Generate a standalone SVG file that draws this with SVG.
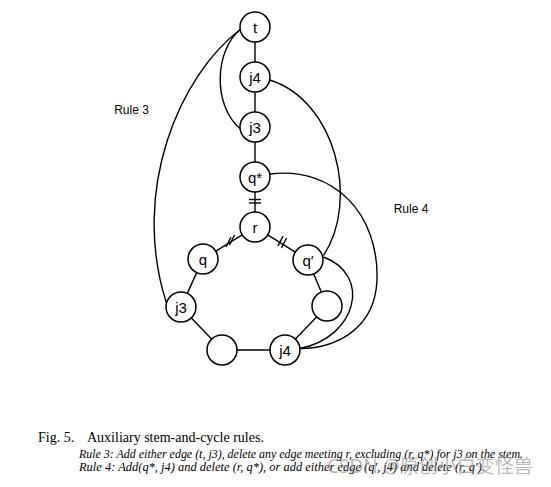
<svg xmlns="http://www.w3.org/2000/svg" width="551" height="487" viewBox="0 0 551 487">
<style>
.n circle{fill:#fff;stroke:#000;stroke-width:1.5}
.n text{font-family:"Liberation Sans",Arial,sans-serif;font-size:15px;text-anchor:middle;fill:#000}
.e{fill:none;stroke:#000;stroke-width:1.4}
.lbl{font-family:"Liberation Sans",Arial,sans-serif;font-size:12px;fill:#000}
.cap{font-family:"Liberation Serif","Times New Roman",serif;fill:#000}
.it{font-style:italic;font-size:12px}
</style>
<rect width="551" height="487" fill="#fff"/>
<g id="connectors" class="e">
  <!-- stem -->
  <line x1="255" y1="42" x2="255" y2="62"/>
  <line x1="255" y1="92" x2="255" y2="112"/>
  <line x1="255" y1="142" x2="255" y2="162"/>
  <line x1="255" y1="192" x2="255" y2="212"/>
  <line x1="249" y1="199.5" x2="261" y2="199.5"/>
  <line x1="249" y1="203" x2="261" y2="203"/>
  <!-- cycle -->
  <line x1="242.2" y1="234.9" x2="215.8" y2="251.1"/>
  <line x1="226" y1="247" x2="231" y2="237"/>
  <line x1="229.5" y1="245" x2="234.5" y2="235"/>
  <line x1="267.7" y1="234.9" x2="295.3" y2="252.1"/>
  <line x1="278" y1="246" x2="283" y2="236"/>
  <line x1="281.5" y1="248" x2="286.5" y2="238"/>
  <line x1="196.7" y1="272.6" x2="187.3" y2="293.4"/>
  <line x1="191.4" y1="317.9" x2="211.6" y2="339.1"/>
  <line x1="237" y1="350" x2="270" y2="350"/>
  <line x1="295.4" y1="339.1" x2="316.6" y2="316.9"/>
  <line x1="321.3" y1="292.1" x2="313.7" y2="273.9"/>
  <!-- rule curves -->
  <path d="M240.3,29.5 C180,75 130,190 166.5,303.1"/>
  <path d="M240.3,29.5 C215,50 212,105 240.5,129"/>
  <path d="M269.6,80 C335,100 360,200 323.5,255.5"/>
  <path d="M270,174 C335,166 379,215 377,280 C375,330 335,348 300,348.5"/>
  <path d="M323.5,257 C372,275 357,337 300,348.5"/>
</g>
<g id="t" class="n"><circle cx="255" cy="27" r="15"/><text x="255" y="32.5">t</text></g>
<g id="j4s" class="n"><circle cx="255" cy="77" r="15"/><text x="255" y="82.5">j4</text></g>
<g id="j3s" class="n"><circle cx="255" cy="127" r="15"/><text x="255" y="132.5">j3</text></g>
<g id="qstar" class="n"><circle cx="255" cy="177" r="15"/><text x="255" y="182.5">q*</text></g>
<g id="r" class="n"><circle cx="255" cy="227" r="15"/><text x="255" y="232.5">r</text></g>
<g id="q" class="n"><circle cx="203" cy="259" r="15"/><text x="203" y="264.5">q</text></g>
<g id="qprime" class="n"><circle cx="308" cy="260" r="15"/><text x="308" y="265.5">q′</text></g>
<g id="j3c" class="n"><circle cx="181" cy="307" r="15"/><text x="181" y="312.5">j3</text></g>
<g id="right" class="n"><circle cx="327" cy="306" r="15"/></g>
<g id="bottomleft" class="n"><circle cx="222" cy="350" r="15"/></g>
<g id="j4c" class="n"><circle cx="285" cy="350" r="15"/><text x="285" y="355.5">j4</text></g>
<text class="lbl" x="131.5" y="114" text-anchor="middle">Rule 3</text>
<text class="lbl" x="411" y="213" text-anchor="middle">Rule 4</text>
<g id="caption">
  <text class="cap" x="38" y="442" font-size="14">Fig. 5.</text>
  <text class="cap" x="87" y="442" font-size="14">Auxiliary stem-and-cycle rules.</text>
  <text class="cap it" x="79" y="457.5" textLength="444" lengthAdjust="spacingAndGlyphs">Rule 3: Add either edge (t, j3), delete any edge meeting r, excluding (r, q*) for j3 on the stem.</text>
  <text class="cap it" x="79" y="471" textLength="406" lengthAdjust="spacingAndGlyphs">Rule 4: Add(q*, j4) and delete (r, q*), or add either edge (q′, j4) and delete (r, q′).</text>
</g>
<text x="327" y="473" font-family="'Noto Sans','Noto Sans CJK SC',sans-serif" font-size="19" fill="#8c8c8c" fill-opacity="0.6">CSDN @原创小白变怪兽</text>
</svg>
